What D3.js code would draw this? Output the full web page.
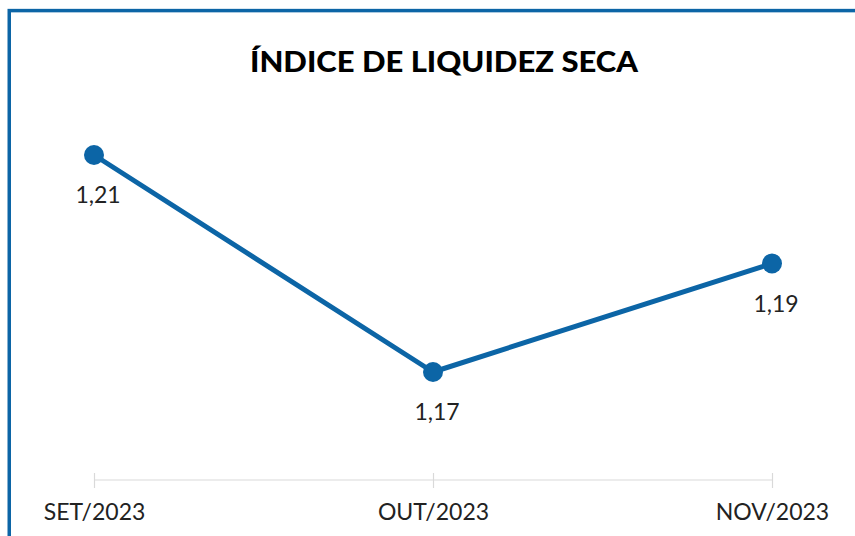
<!DOCTYPE html>
<html>
<head>
<meta charset="utf-8">
<script src="https://cdn.jsdelivr.net/npm/d3@7"></script>
<style>
html,body{margin:0;padding:0;background:#fff;}
svg{display:block;}
</style>
</head>
<body>
<svg id="chart" width="855" height="536"></svg>
<script>
const title = "ÍNDICE DE LIQUIDEZ SECA";
const categories = ["SET/2023", "OUT/2023", "NOV/2023"];
const values = [1.21, 1.17, 1.19];
const valueLabels = ["1,21", "1,17", "1,19"];
const yDomain = [1.15, 1.22];

const W = 855, H = 536;
const blue = "#0c65a6";
const svg = d3.select("#chart");

// frame (extends beyond right and bottom edges)
svg.append("rect")
  .attr("x", 9.25).attr("y", 10.6)
  .attr("width", 900).attr("height", 600)
  .attr("fill", "#fff")
  .attr("stroke", blue).attr("stroke-width", 3.5);

svg.append("text")
  .attr("x", 444).attr("y", 72)
  .attr("text-anchor", "middle")
  .attr("font-family", "Lato, 'DejaVu Sans', sans-serif")
  .attr("font-weight", 900)
  .attr("font-size", 29)
  .attr("fill", "#000")
  .attr("textLength", 388).attr("lengthAdjust", "spacingAndGlyphs")
  .text(title);

const x = d3.scalePoint().domain(categories).range([94, 772]);
const y = d3.scaleLinear().domain(yDomain).range([480.5, 100.75]);

const axisY = Math.round(y(yDomain[0])) - 1;
const axis = svg.append("g").attr("transform", `translate(0,${axisY})`)
  .call(d3.axisBottom(x).tickSize(0).tickPadding(0));
axis.select(".domain").remove();
axis.append("line")
  .attr("x1", x(categories[0])).attr("x2", x(categories[categories.length-1]))
  .attr("stroke", "#d9d9d9").attr("stroke-width", 1.2);
axis.selectAll(".tick").append("line")
  .attr("y1", -7).attr("y2", 8)
  .attr("stroke", "#d9d9d9").attr("stroke-width", 1.2);
axis.selectAll(".tick text")
  .attr("y", 40)
  .attr("dy", 0)
  .attr("font-family", "Lato, 'DejaVu Sans', sans-serif")
  .attr("font-size", 23)
  .attr("fill", "#222");

const data = categories.map((c, i) => ({c, v: values[i], l: valueLabels[i]}));

svg.append("path")
  .datum(data)
  .attr("fill", "none")
  .attr("stroke", blue)
  .attr("stroke-width", 5)
  .attr("stroke-linejoin", "round")
  .attr("d", d3.line().x(d => x(d.c)).y(d => y(d.v)));

svg.selectAll("circle.pt").data(data).join("circle")
  .attr("class", "pt")
  .attr("cx", d => x(d.c)).attr("cy", d => y(d.v))
  .attr("r", 10).attr("fill", blue);

svg.selectAll("text.lbl").data(data).join("text")
  .attr("class", "lbl")
  .attr("x", d => x(d.c) + 4).attr("y", d => y(d.v) + 48)
  .attr("text-anchor", "middle")
  .attr("font-family", "Lato, 'DejaVu Sans', sans-serif")
  .attr("font-size", 23)
  .attr("fill", "#222")
  .text(d => d.l);
</script>
</body>
</html>
